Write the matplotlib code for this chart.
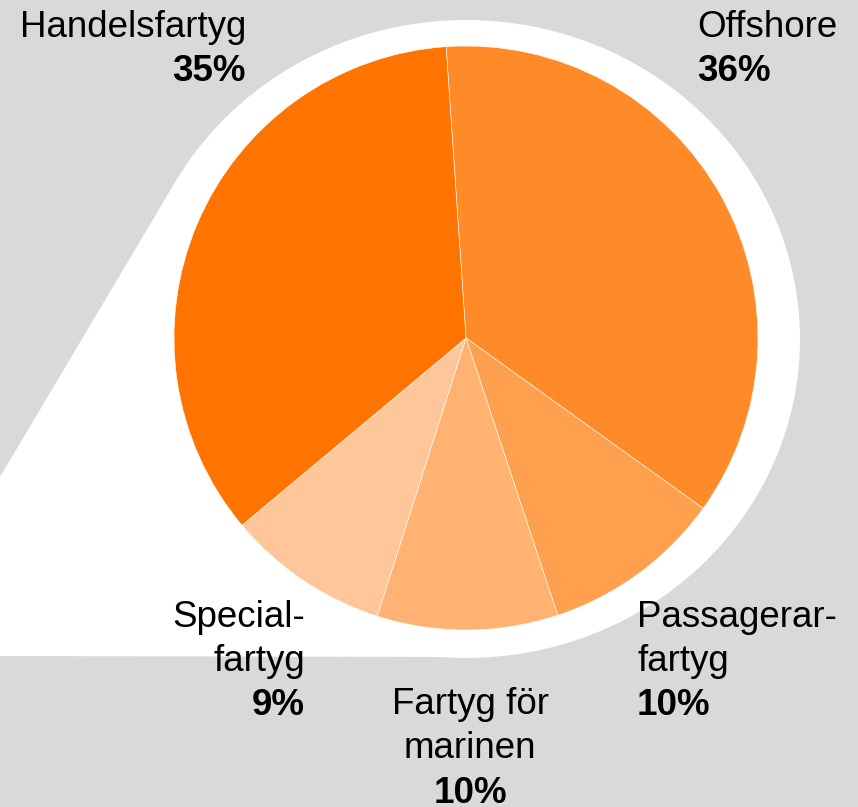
import matplotlib
matplotlib.use('Agg')
import numpy as np
import matplotlib.pyplot as plt
from matplotlib.patches import Ellipse, Polygon

plt.rcParams['font.family'] = ['Liberation Sans', 'DejaVu Sans']

# data
names = ['Offshore', 'Passagerarfartyg', 'Fartyg för marinen', 'Specialfartyg', 'Handelsfartyg']
shares = [36, 10, 10, 9, 35]
label_lines = [['Offshore'], ['Passagerar-', 'fartyg'], ['Fartyg för', 'marinen'],
               ['Special-', 'fartyg'], ['Handelsfartyg']]
colors = ['#fe8a28', '#ffa04e', '#ffb272', '#ffc799', '#ff7400']

W, H = 858, 807
fig = plt.figure(figsize=(W / 100, H / 100), dpi=100)
fig.patch.set_facecolor('#d9d9d9')
ax = fig.add_axes([0, 0, 1, 1])


def Y(p):
    # pixel row -> data y
    return H - p


# white backdrop: ellipse + callout tail to the lower left (pixel coords)
ecx, ecy, ea, eb = 466, 339, 334, 319
ax.add_patch(Ellipse((ecx, Y(ecy)), 2 * ea, 2 * eb, facecolor='white', edgecolor='none', zorder=1))

# tail edge = tangent from (0, 477) to the ellipse
x0, y0 = (0 - ecx) / ea, (477 - ecy) / eb
r0 = np.hypot(x0, y0)
phi = np.arctan2(y0, x0) + np.arccos(1 / r0)
tx, ty = ecx + ea * np.cos(phi), ecy + eb * np.sin(phi)
if ty > ecy:
    phi = np.arctan2(y0, x0) - np.arccos(1 / r0)
    tx, ty = ecx + ea * np.cos(phi), ecy + eb * np.sin(phi)
tail = [(0, 656), (0, 477), (tx, ty), (ecx, ecy), (ecx, 657)]
ax.add_patch(Polygon([(x, Y(y)) for x, y in tail], closed=True, facecolor='white',
                     edgecolor='none', zorder=1))

wedges, _ = ax.pie(shares, colors=colors, startangle=93.9, counterclock=False,
                   center=(466, Y(338)), radius=292,
                   wedgeprops=dict(edgecolor='#ffffff', linewidth=0.4))
for w in wedges:
    w.set_zorder(2)

fs = 26.5
# label anchors: (x, first baseline row, alignment, line step)
anchors = [(697, 37, 'left', 44), (637, 627, 'left', 44), (470, 714, 'center', 44.5),
           (305, 627, 'right', 44), (246, 37, 'right', 44)]
for lines, v, (x, y0, ha, step) in zip(label_lines, shares, anchors):
    y = y0
    for ln in lines:
        ax.text(x, Y(y), ln, ha=ha, va='baseline', fontsize=fs, color='black', zorder=3)
        y += step
    ax.text(x, Y(y), f'{v}%', ha=ha, va='baseline', fontsize=fs, fontweight='bold',
            color='black', zorder=3)

ax.set_xlim(0, W)
ax.set_ylim(0, H)
ax.set_aspect('equal')
ax.axis('off')

fig.savefig('out.png', dpi=100, facecolor=fig.get_facecolor())
